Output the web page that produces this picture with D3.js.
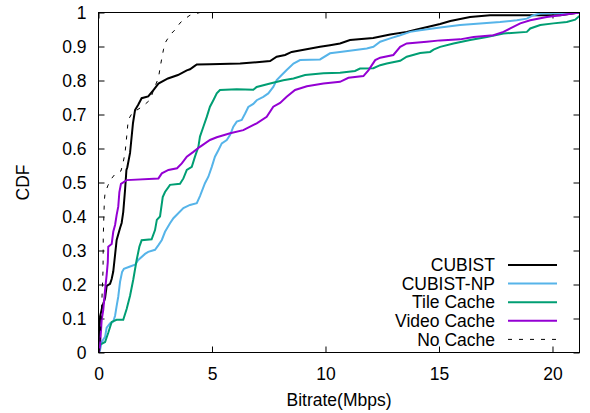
<!DOCTYPE html>
<html>
<head>
<meta charset="utf-8">
<script src="https://cdn.jsdelivr.net/npm/d3@7"></script>
<style>
  body { margin: 0; background: #fff; }
  svg text { font-family: "Liberation Sans", Arial, sans-serif; font-size: 17.5px; fill: #000; }
</style>
</head>
<body>
<svg id="chart" width="590" height="413"></svg>
<script>
// CDF points [bitrate Mbps, cdf]
const cubist = [[0.02,0],[0.07,0.106],[0.17,0.135],[0.29,0.16],[0.36,0.196],[0.51,0.202],[0.58,0.216],[0.65,0.238],[0.73,0.287],[0.80,0.331],[0.95,0.366],[1.02,0.381],[1.09,0.413],[1.17,0.478],[1.23,0.537],[1.27,0.545],[1.39,0.587],[1.52,0.675],[1.61,0.713],[1.75,0.729],[1.90,0.748],[2.19,0.753],[2.42,0.772],[2.64,0.791],[3.06,0.806],[3.50,0.816],[3.89,0.830],[4.03,0.833],[4.18,0.840],[4.33,0.847],[4.91,0.848],[6.24,0.850],[7.56,0.857],[7.85,0.870],[8.22,0.875],[8.51,0.884],[9.76,0.899],[10.2,0.904],[10.64,0.909],[11.08,0.919],[12.1,0.925],[12.85,0.935],[13.58,0.943],[14.02,0.950],[15.05,0.966],[15.5,0.975],[16.37,0.987],[17.25,0.992],[20.34,0.992],[21.18,1.0]];

const cubistNp = [[0.02,0],[0.07,0.008],[0.14,0.031],[0.29,0.046],[0.36,0.073],[0.51,0.086],[0.65,0.091],[0.73,0.108],[0.80,0.137],[0.87,0.164],[0.95,0.208],[1.04,0.237],[1.12,0.246],[1.39,0.253],[1.61,0.258],[1.75,0.272],[2.05,0.29],[2.19,0.296],[2.49,0.302],[2.64,0.316],[2.79,0.331],[2.93,0.355],[3.15,0.38],[3.30,0.395],[3.45,0.405],[3.74,0.425],[4.03,0.434],[4.33,0.439],[4.47,0.46],[4.69,0.498],[4.84,0.517],[4.99,0.546],[5.13,0.576],[5.28,0.595],[5.43,0.615],[5.65,0.625],[5.80,0.64],[5.94,0.664],[6.09,0.679],[6.31,0.684],[6.46,0.703],[6.60,0.722],[6.82,0.731],[6.97,0.742],[7.26,0.752],[7.48,0.762],[7.70,0.781],[7.85,0.801],[8.07,0.816],[8.29,0.831],[8.59,0.85],[8.88,0.86],[9.76,0.862],[10.20,0.88],[10.64,0.884],[11.23,0.889],[11.82,0.894],[12.11,0.899],[12.41,0.914],[12.85,0.924],[13.29,0.933],[13.73,0.943],[14.17,0.948],[15.05,0.956],[15.93,0.963],[16.81,0.968],[17.69,0.972],[18.43,0.977],[18.87,0.982],[19.16,0.992],[19.46,0.997],[21.19,1.0]];

const tileCache = [[0.02,0],[0.07,0.023],[0.29,0.031],[0.43,0.058],[0.58,0.09],[0.80,0.096],[1.09,0.096],[1.24,0.128],[1.39,0.167],[1.53,0.214],[1.68,0.272],[1.80,0.311],[1.90,0.33],[2.34,0.333],[2.49,0.36],[2.57,0.39],[2.71,0.40],[2.83,0.457],[2.93,0.472],[3.15,0.493],[3.59,0.496],[3.74,0.512],[3.89,0.537],[4.11,0.546],[4.25,0.576],[4.40,0.605],[4.47,0.635],[4.62,0.664],[4.77,0.693],[4.91,0.723],[5.06,0.742],[5.21,0.762],[5.35,0.772],[6.09,0.774],[6.82,0.773],[6.97,0.781],[7.56,0.791],[8.14,0.801],[8.59,0.806],[9.10,0.816],[9.91,0.821],[10.64,0.823],[11.3,0.828],[11.52,0.835],[12.11,0.836],[12.41,0.845],[12.70,0.850],[13.29,0.858],[13.58,0.87],[14.17,0.881],[14.61,0.884],[14.76,0.891],[15.05,0.899],[15.64,0.909],[16.37,0.919],[17.11,0.928],[17.84,0.938],[18.87,0.943],[19.02,0.953],[19.46,0.963],[20.04,0.968],[20.63,0.972],[21.0,0.979],[21.19,0.99]];

const videoCache = [[0.02,0],[0.07,0.023],[0.14,0.096],[0.21,0.125],[0.29,0.184],[0.36,0.228],[0.41,0.266],[0.43,0.311],[0.58,0.319],[0.65,0.355],[0.73,0.375],[0.80,0.405],[0.87,0.429],[0.92,0.472],[0.99,0.496],[1.24,0.507],[2.64,0.512],[2.79,0.527],[3.08,0.537],[3.46,0.542],[3.67,0.556],[3.89,0.576],[4.18,0.590],[4.47,0.605],[4.91,0.625],[5.21,0.633],[5.80,0.645],[6.38,0.654],[6.97,0.674],[7.41,0.693],[7.70,0.723],[8.0,0.734],[8.29,0.752],[8.66,0.772],[9.18,0.783],[9.91,0.791],[10.64,0.796],[11.01,0.808],[11.67,0.813],[11.89,0.830],[12.19,0.860],[12.41,0.867],[12.99,0.875],[13.29,0.899],[13.58,0.909],[14.46,0.914],[15.05,0.918],[15.93,0.921],[16.52,0.928],[17.4,0.933],[17.84,0.943],[18.14,0.953],[18.58,0.968],[19.02,0.977],[19.75,0.987],[20.34,0.992],[21.19,1.0]];

const noCache = [[0.02,0],[0.07,0.03],[0.11,0.096],[0.15,0.155],[0.2,0.243],[0.21,0.34],[0.24,0.41],[0.26,0.449],[0.29,0.469],[0.42,0.492],[0.59,0.513],[0.77,0.528],[0.99,0.534],[1.08,0.557],[1.17,0.587],[1.24,0.634],[1.31,0.684],[1.48,0.704],[1.83,0.719],[2.05,0.73],[2.27,0.743],[2.49,0.783],[2.64,0.807],[2.71,0.836],[2.79,0.866],[2.86,0.89],[2.93,0.91],[3.15,0.934],[3.37,0.949],[3.59,0.969],[3.74,0.978],[4.03,0.992],[4.47,1.0],[21.19,1.0]];

const seriesNames = ["CUBIST", "CUBIST-NP", "Tile Cache", "Video Cache", "No Cache"];
const seriesColors = ["#000000", "#56b4e9", "#009e73", "#9400d3", "#000000"];
const seriesData = [cubist, cubistNp, tileCache, videoCache, noCache];

const xTicks = [0, 5, 10, 15, 20];
const yTicks = [0, 0.1, 0.2, 0.3, 0.4, 0.5, 0.6, 0.7, 0.8, 0.9, 1];

const svg = d3.select("#chart");
const plotLeft = 98.5, plotRight = 579.5, plotTop = 12.5, plotBottom = 352.5;

const x = d3.scaleLinear().domain([0, 21.19]).range([plotLeft, plotRight]);
const y = d3.scaleLinear().domain([0, 1]).range([plotBottom, plotTop]);

svg.append("defs").append("clipPath").attr("id", "clip")
  .append("rect").attr("x", plotLeft).attr("y", plotTop)
  .attr("width", plotRight - plotLeft).attr("height", plotBottom - plotTop);

// ticks on all four sides, pointing inward
const tk = 6;
svg.append("g").attr("transform", `translate(0,${plotBottom})`)
  .call(d3.axisBottom(x).tickValues(xTicks).tickSizeInner(-tk).tickSizeOuter(0).tickPadding(15))
  .call(g => g.select(".domain").remove());
svg.append("g").attr("transform", `translate(0,${plotTop})`)
  .call(d3.axisTop(x).tickValues(xTicks).tickSizeInner(-tk).tickSizeOuter(0).tickFormat(""))
  .call(g => g.select(".domain").remove());
svg.append("g").attr("transform", `translate(${plotLeft},0)`)
  .call(d3.axisLeft(y).tickValues(yTicks).tickSizeInner(-tk).tickSizeOuter(0).tickPadding(12)
    .tickFormat(d => d3.format("")(+d.toFixed(1))))
  .call(g => g.select(".domain").remove());
svg.append("g").attr("transform", `translate(${plotRight},0)`)
  .call(d3.axisRight(y).tickValues(yTicks).tickSizeInner(-tk).tickSizeOuter(0).tickFormat(""))
  .call(g => g.select(".domain").remove());

svg.selectAll(".tick text").attr("font-size", null).attr("font-family", null);
svg.selectAll(".tick line").attr("stroke", "#000");

const line = d3.line().x(d => x(d[0])).y(d => y(d[1]));

const plot = svg.append("g").attr("clip-path", "url(#clip)");
seriesData.forEach((data, i) => {
  plot.append("path")
    .datum(data)
    .attr("fill", "none")
    .attr("stroke", seriesColors[i])
    .attr("stroke-width", i === 4 ? 1 : 2)
    .attr("stroke-dasharray", i === 4 ? "4,7" : null)
    .attr("d", line);
});

svg.append("rect")
  .attr("x", plotLeft).attr("y", plotTop)
  .attr("width", plotRight - plotLeft).attr("height", plotBottom - plotTop)
  .attr("fill", "none").attr("stroke", "#000").attr("stroke-width", 1);

// legend
const legend = svg.append("g");
seriesNames.forEach((name, i) => {
  const ly = 265 + i * 18.6;
  legend.append("text")
    .attr("x", 495).attr("y", ly).attr("dy", "0.35em")
    .attr("text-anchor", "end").text(name);
  legend.append("line")
    .attr("x1", 508).attr("x2", 557).attr("y1", ly).attr("y2", ly)
    .attr("stroke", seriesColors[i])
    .attr("stroke-width", i === 4 ? 1 : 2)
    .attr("stroke-dasharray", i === 4 ? "4,7" : null);
});

svg.append("text")
  .attr("x", (plotLeft + plotRight) / 2).attr("y", 400).attr("dy", "0.35em")
  .attr("text-anchor", "middle").text("Bitrate(Mbps)");

svg.append("text")
  .attr("transform", `translate(23,${(plotTop + plotBottom) / 2}) rotate(-90)`)
  .attr("dy", "0.35em")
  .attr("text-anchor", "middle").text("CDF");
</script>
</body>
</html>
